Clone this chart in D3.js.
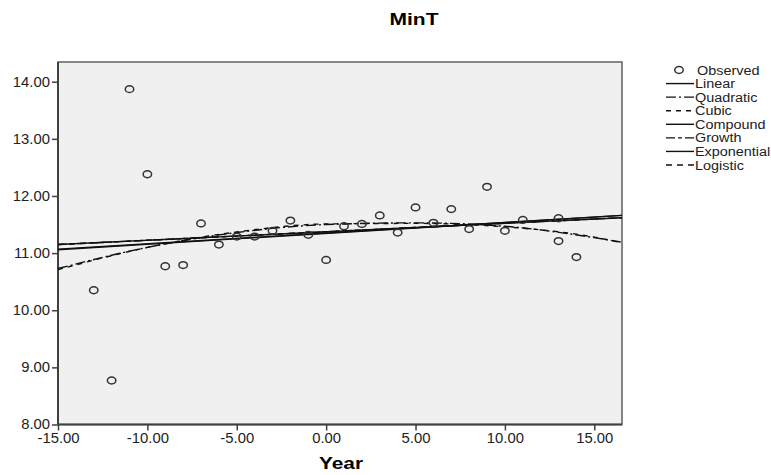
<!DOCTYPE html>
<html>
<head>
<meta charset="utf-8">
<script src="https://cdn.jsdelivr.net/npm/d3@7"></script>
<style>
  body { margin: 0; background: #fff; }
  svg { font-family: "Liberation Sans", Arial, sans-serif; }
</style>
</head>
<body>
<svg id="chart"></svg>
<script>
// observed points
const years = [-13, -12, -11, -10, -9, -8, -7, -6, -5, -4, -3, -2, -1, 0, 1, 2, 3, 4, 5, 6, 7, 8, 9, 10, 11, 13, 13, 14];
const minT = [10.35, 8.77, 13.87, 12.38, 10.77, 10.79, 11.52, 11.15, 11.29, 11.29, 11.39, 11.57, 11.32, 10.88,
  11.47, 11.51, 11.66, 11.36, 11.80, 11.53, 11.77, 11.42, 12.16, 11.39, 11.58, 11.61, 11.21, 10.93];

// fitted curves, read at a few x positions
const lineX = [-15, 16.55];
const linearFit = [11.06, 11.66];
const exponentialFit = [11.07, 11.66];
const compoundFit = [11.15, 11.62];
const growthFit = [11.15, 11.62];
const logisticFit = [11.15, 11.62];
const curveX = [-15, -10, -5, 0, 5, 10, 15, 16.55];
const quadraticFit = [10.73, 11.10, 11.36, 11.50, 11.53, 11.47, 11.27, 11.19];
const cubicFit = [10.71, 11.10, 11.37, 11.51, 11.52, 11.46, 11.28, 11.18];

const xTicks = [-15, -10, -5, 0, 5, 10, 15];
const yTicks = [8, 9, 10, 11, 12, 13, 14];

const legendNames = ["Observed", "Linear", "Quadratic", "Cubic", "Compound", "Growth", "Exponential", "Logistic"];

const width = 771, height = 475;
const svg = d3.select("#chart").attr("width", width).attr("height", height);

const x = d3.scaleLinear().domain([-15, 16.55]).range([58, 622]);
const y = d3.scaleLinear().domain([8, 14.345]).range([424.5, 62]);

// stretch text a little wider, like the original export
function stretch(sel, k) {
  sel.each(function () {
    const w = this.getComputedTextLength();
    d3.select(this).attr("textLength", w * k).attr("lengthAdjust", "spacingAndGlyphs");
  });
}

// plot background
svg.append("rect")
  .attr("x", x.range()[0]).attr("y", y.range()[1])
  .attr("width", x.range()[1] - x.range()[0])
  .attr("height", y.range()[0] - y.range()[1])
  .attr("fill", "#f0f0f0")
  .attr("stroke", "#606060")
  .attr("stroke-width", 1.5);

// axes
const fmt = d => d.toFixed(2);
const xAxis = svg.append("g")
  .attr("transform", `translate(0,${y.range()[0]})`)
  .call(d3.axisBottom(x).tickValues(xTicks).tickFormat(fmt).tickSize(6).tickPadding(3));
const yAxis = svg.append("g")
  .attr("transform", `translate(${x.range()[0]},0)`)
  .call(d3.axisLeft(y).tickValues(yTicks).tickFormat(fmt).tickSize(6).tickPadding(2));

[xAxis, yAxis].forEach(g => {
  g.select(".domain").remove();
  g.selectAll(".tick line").attr("stroke", "#404040").attr("stroke-width", 1.5);
  g.selectAll(".tick text").attr("fill", "#222").style("font-size", "14px").call(stretch, 1.06);
});
yAxis.append("line").attr("y1", y.range()[0]).attr("y2", y.range()[1])
  .attr("stroke", "#404040").attr("stroke-width", 2);
xAxis.append("line").attr("x1", x.range()[0]).attr("x2", x.range()[1])
  .attr("stroke", "#404040").attr("stroke-width", 2);

// fit lines
const fits = [
  { name: "Linear", xs: lineX, ys: linearFit, dash: null },
  { name: "Quadratic", xs: curveX, ys: quadraticFit, dash: "10,3,2,3" },
  { name: "Cubic", xs: curveX, ys: cubicFit, dash: "5,5" },
  { name: "Compound", xs: lineX, ys: compoundFit, dash: null },
  { name: "Growth", xs: lineX, ys: growthFit, dash: "9,3,4,3" },
  { name: "Exponential", xs: lineX, ys: exponentialFit, dash: null },
  { name: "Logistic", xs: lineX, ys: logisticFit, dash: "6,5" }
];

const line = d3.line()
  .x(d => x(d[0]))
  .y(d => y(d[1]))
  .curve(d3.curveMonotoneX);

const plot = svg.append("g");
fits.forEach(f => {
  plot.append("path")
    .datum(f.xs.map((v, i) => [v, f.ys[i]]))
    .attr("d", line)
    .attr("fill", "none")
    .attr("stroke", "#111")
    .attr("stroke-width", 1.4)
    .attr("stroke-dasharray", f.dash);
});

// observed points
plot.selectAll(".pt")
  .data(years.map((v, i) => [v, minT[i]]))
  .enter()
  .append("ellipse")
  .attr("class", "pt")
  .attr("cx", d => x(d[0]))
  .attr("cy", d => y(d[1]))
  .attr("rx", 4.2)
  .attr("ry", 3.4)
  .attr("fill", "none")
  .attr("stroke", "#333")
  .attr("stroke-width", 1.5);

// title and axis label
svg.append("text")
  .attr("x", 414).attr("y", 25)
  .attr("text-anchor", "middle")
  .style("font-size", "17px").style("font-weight", "bold")
  .attr("textLength", 49).attr("lengthAdjust", "spacingAndGlyphs")
  .text("MinT");

svg.append("text")
  .attr("x", 341).attr("y", 469)
  .attr("text-anchor", "middle")
  .style("font-size", "17px").style("font-weight", "bold")
  .attr("textLength", 44).attr("lengthAdjust", "spacingAndGlyphs")
  .text("Year");

// legend
const legend = svg.append("g");
const legendY = d3.scalePoint().domain(legendNames).range([70, 165]);
legend.selectAll("text")
  .data(legendNames)
  .enter()
  .append("text")
  .attr("x", d => d === "Observed" ? 697 : 695)
  .attr("y", d => legendY(d) + 4.5)
  .style("font-size", "12px")
  .attr("fill", "#222")
  .text(d => d)
  .call(stretch, 1.2);

legend.append("ellipse")
  .attr("cx", 679).attr("cy", legendY("Observed"))
  .attr("rx", 4.2).attr("ry", 3.4)
  .attr("fill", "none").attr("stroke", "#333").attr("stroke-width", 1.5);

legend.selectAll("line")
  .data(fits)
  .enter()
  .append("line")
  .attr("x1", 666).attr("x2", 694)
  .attr("y1", d => legendY(d.name)).attr("y2", d => legendY(d.name))
  .attr("stroke", "#111").attr("stroke-width", 1.4)
  .attr("stroke-dasharray", d => d.dash);
</script>
</body>
</html>
